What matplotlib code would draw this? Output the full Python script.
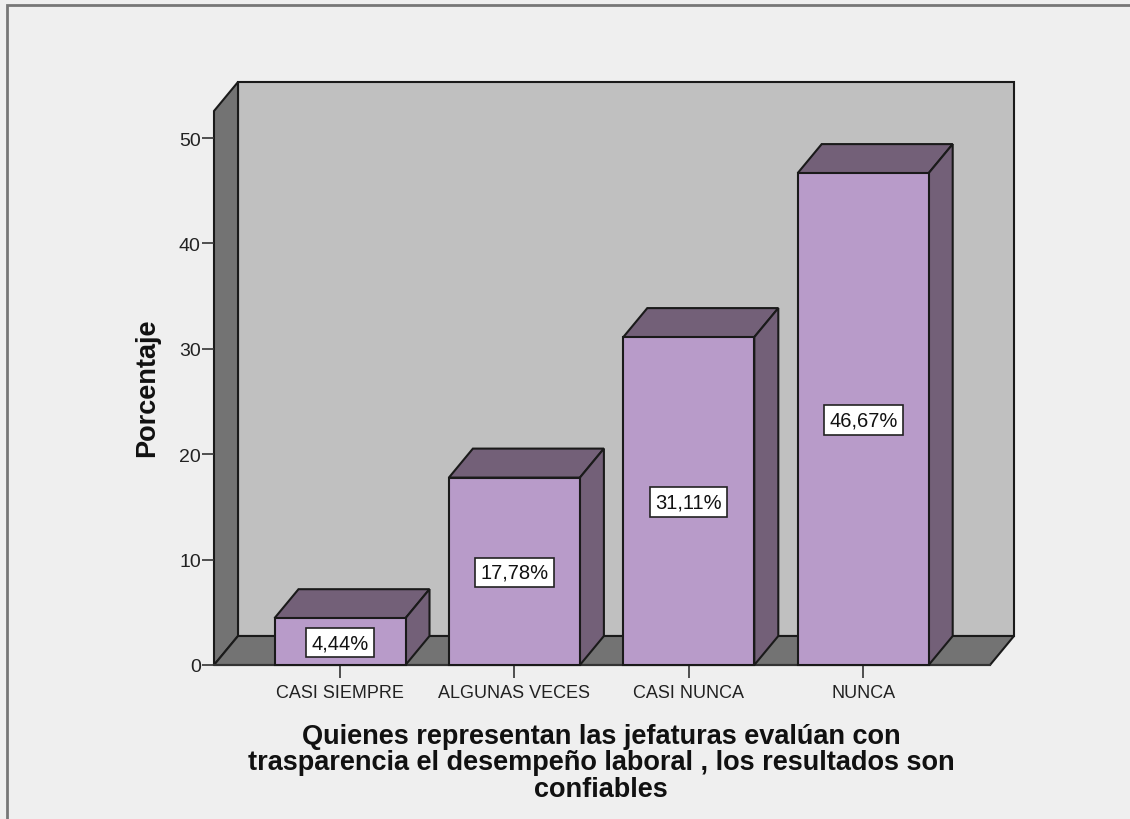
import matplotlib
matplotlib.use("Agg")
import matplotlib.pyplot as plt
from matplotlib.patches import Polygon
from matplotlib.lines import Line2D

categories = ["CASI SIEMPRE", "ALGUNAS VECES", "CASI NUNCA", "NUNCA"]
values = [4.44, 17.78, 31.11, 46.67]
value_labels = ["4,44%", "17,78%", "31,11%", "46,67%"]
y_ticks = [0, 10, 20, 30, 40, 50]
xlabel = "Quienes representan las jefaturas evalúan con\ntrasparencia el desempeño laboral , los resultados son\nconfiables"
ylabel = "Porcentaje"

plt.rcParams["font.family"] = ["Liberation Sans", "DejaVu Sans"]
W, H = 1130, 820
BG = "#EFEFEF"; WALL = "#737373"; BACK = "#C0C0C0"; FRONT = "#B89BC9"; DARK = "#736078"; EDGE = "#1A1A1A"

fig = plt.figure(figsize=(W/100, H/100), dpi=100, facecolor=BG)
L, R, B, T = 214, 1014, 666, 83
ax = fig.add_axes([L/W, 1-B/H, (R-L)/W, (B-T)/H])
px_x = 174.4; px_y = 10.54; x0 = 340
ax.set_xlim((L-x0)/px_x, (R-x0)/px_x)
ax.set_ylim(0, (B-T)/px_y)
ddx = 24/px_x; ddy = 29/px_y; hw = 65.5/px_x
xmin, xmax = ax.get_xlim(); ymax = ax.get_ylim()[1]
ax.patch.set_alpha(0)
for s in ax.spines.values():
    s.set_visible(False)

def poly(pts, fc, lw=1.5, z=1):
    ax.add_patch(Polygon(pts, closed=True, fc=fc, ec=EDGE, lw=lw, joinstyle="miter", clip_on=False, zorder=z))

poly([(xmin+ddx, ddy), (xmax, ddy), (xmax, ymax), (xmin+ddx, ymax)], BACK)
poly([(xmin, 0), (xmin+ddx, ddy), (xmin+ddx, ymax), (xmin, ymax-ddy)], WALL)
poly([(xmin, 0), (xmin+ddx, ddy), (xmax, ddy), (xmax-ddx, 0)], WALL)

for i, v in enumerate(values):
    z = 3 + i
    poly([(i-hw, v), (i+hw, v), (i+hw+ddx, v+ddy), (i-hw+ddx, v+ddy)], DARK, z=z)
    poly([(i+hw, 0), (i+hw+ddx, ddy), (i+hw+ddx, v+ddy), (i+hw, v)], DARK, z=z)
    poly([(i-hw, 0), (i+hw, 0), (i+hw, v), (i-hw, v)], FRONT, z=z)
    ax.text(i, v/2-0.1, value_labels[i], ha="center", va="center", fontsize=14.5, color="#111111", zorder=20,
            bbox=dict(boxstyle="square,pad=0.26", fc="white", ec="#222222", lw=1.2))

ax.set_xticks(range(len(categories)), categories)
ax.set_yticks(y_ticks)
ax.tick_params(axis="x", length=9, width=1.2, color="#333333", labelsize=13, labelcolor="#222222", pad=5)
ax.tick_params(axis="y", length=8.5, width=1.2, color="#333333", labelsize=14, labelcolor="#222222", pad=1)
ax.add_line(Line2D([xmin, xmax-ddx], [0, 0], color="#333333", lw=1.5, clip_on=False, zorder=2))

ax.set_xlabel(xlabel, fontsize=19.5, fontweight="bold", color="#111111", linespacing=1.02, va="top", ha="center")
ax.xaxis.set_label_coords((601-L)/(R-L), -(724-B)/(B-T))
ax.set_ylabel(ylabel, fontsize=19.5, fontweight="bold", color="#111111", va="center", ha="center")
ax.yaxis.set_label_coords((147-L)/(R-L), (B-388)/(B-T))

fig.add_artist(Line2D([7/W, 7/W, 1], [0, 1-6/H, 1-6/H], color="#777777", lw=2.0, solid_joinstyle="miter"))
fig.savefig("out.png", dpi=100, facecolor=BG)
